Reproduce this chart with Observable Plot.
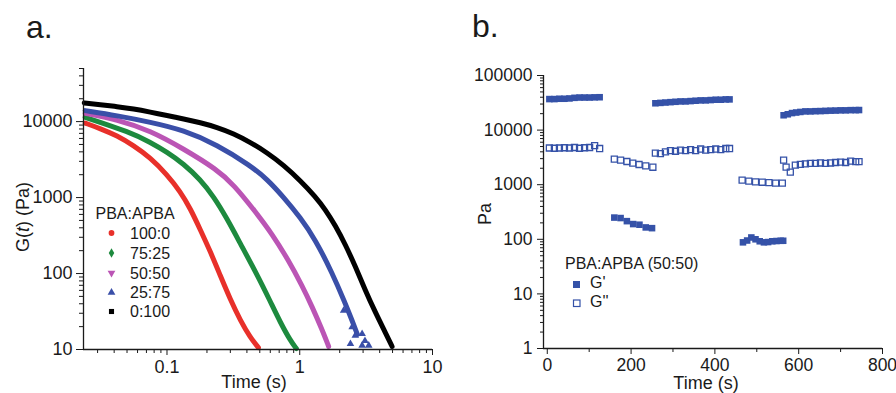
<!DOCTYPE html>
<html><head><meta charset="utf-8">
<script src="https://cdn.jsdelivr.net/npm/d3@7"></script>
<script src="https://cdn.jsdelivr.net/npm/@observablehq/plot@0.6"></script>
<style>
body{margin:0;background:#fff;}
#wrap{position:relative;width:896px;height:393px;overflow:hidden;font-family:"Liberation Sans",Arial,sans-serif;background:#fff;}
#wrap > svg{position:absolute;top:0;}
</style></head><body><div id="wrap"></div>
<script>
// ---------- Panel a data: stress relaxation G(t) ----------
const seriesNamesA = ["100:0", "75:25", "50:50", "25:75", "0:100"];
const colorsA = ["#e8302a", "#1d8a3e", "#bb55b5", "#3a4fa8", "#000000"];

const t_100_0 = [0.0242, 0.0314, 0.0420, 0.0560, 0.0748, 0.100, 0.126, 0.150, 0.178, 0.212, 0.252, 0.300, 0.357, 0.424, 0.488];
const g_100_0 = [9555, 8090, 6543, 4834, 3360, 2007, 1199, 716, 379, 195, 94.1, 45.5, 24.1, 14.4, 10.6];

const t_75_25 = [0.0242, 0.0529, 0.0748, 0.100, 0.1334, 0.1782, 0.2245, 0.2832, 0.3568, 0.4768, 0.6004, 0.7143, 0.8496, 0.9428];
const g_75_25 = [11394, 7234, 5340, 3969, 2776, 1725, 1031, 529, 248, 97.0, 42.8, 22.7, 13.1, 10.3];

const t_50_50 = [0.0242, 0.0420, 0.0748, 0.1334, 0.2381, 0.3176, 0.4628, 0.6183, 0.8249, 1.0406, 1.2378, 1.4723, 1.6511];
const g_50_50 = [12861, 10624, 7614, 4374, 2335, 1483, 654, 333, 148, 69.5, 36.8, 18.3, 10.95];

const t_25_75 = [0.0242, 0.0420, 0.0748, 0.1334, 0.2381, 0.4244, 0.5671, 0.7563, 1.0104, 1.3109, 1.7514, 2.2057, 2.4783, 2.7170];
const g_25_75 = [13954, 11993, 9849, 7731, 4981, 2637, 1751, 1009, 546, 280, 103, 40.3, 24.1, 15.8];
const t_25_75_tail = [2.14, 2.48, 2.62, 2.95, 2.41, 2.95, 3.31, 3.10];
const g_25_75_tail = [32.6, 19.7, 15.3, 16.1, 11.9, 11.3, 11.3, 13.0];

const t_0_100 = [0.0238, 0.0314, 0.0420, 0.0560, 0.0748, 0.100, 0.1334, 0.1782, 0.2381, 0.3176, 0.4244, 0.5671, 0.7563, 1.0104, 1.3109, 1.5592, 1.8548, 2.2057, 2.6242, 3.1221, 3.7130, 4.4171, 4.9607];
const g_0_100 = [17628, 16738, 15757, 14695, 13335, 11993, 10852, 9701, 8414, 6952, 5340, 3909, 2677, 1674, 1031, 695, 428, 241, 124, 59.7, 30.7, 16.7, 10.95];

const majorYA = [10, 100, 1000, 10000];
const majorXA = [0.1, 1, 10];

// ---------- Panel b data: step strain G' / G'' ----------
const gpTime = [5, 17, 29, 41, 53, 65, 77, 89, 101, 113, 125,
  160, 175, 190, 205, 220, 235, 250,
  258, 270, 282, 294, 306, 318, 330, 342, 354, 366, 378, 390, 402, 414, 426, 435,
  467, 477, 487, 497, 507, 517, 527, 537, 547, 557, 563,
  564, 574, 584, 594, 604, 616, 628, 640, 652, 664, 676, 688, 700, 712, 724, 736, 744];
const gpValue = [37000, 37000, 37500, 37500, 38000, 39000, 39500, 39500, 39500, 39800, 40000,
  250, 245, 215, 190, 185, 165, 160,
  31000, 31500, 32000, 32500, 33000, 33500, 33500, 34000, 34500, 35000, 35000, 35500, 36000, 36000, 36500, 36500,
  88, 95, 108, 100, 92, 88, 89, 92, 93, 94, 94,
  18700, 19500, 20500, 21000, 21500, 22000, 22000, 22200, 22300, 22500, 22700, 22800, 23000, 23000, 23200, 23200, 23300];

const gppTime = [5, 17, 29, 41, 53, 65, 77, 89, 101, 113, 125,
  160, 175, 190, 204, 219, 235, 252,
  258, 270, 282, 294, 306, 318, 330, 342, 354, 366, 378, 390, 402, 414, 426, 435,
  465, 481, 497, 513, 529, 545, 561,
  564, 570, 580, 592, 604, 616, 628, 640, 652, 664, 676, 688, 700, 712, 724, 736, 744];
const gppValue = [4700, 4650, 4700, 4750, 4700, 4800, 4650, 4750, 4800, 5200, 4600,
  2930, 2810, 2660, 2480, 2345, 2210, 2090,
  3800, 3700, 4000, 4200, 4100, 4300, 4200, 4400, 4200, 4500, 4300, 4400, 4500, 4400, 4600, 4600,
  1209, 1160, 1130, 1110, 1090, 1070, 1070,
  2810, 2100, 1700, 2280, 2350, 2400, 2450, 2450, 2500, 2450, 2500, 2550, 2600, 2550, 2700, 2650, 2650];

const majorYB = [1, 10, 100, 1000, 10000, 100000];
const majorXB = [0, 200, 400, 600, 800];
const minorXB = [100, 300, 500, 700];

// ---------- build ----------
const FONT = "Liberation Sans, Arial, sans-serif";
const INK = "#1a1a1a";
const blueB = "#3552a8";

function logMinor(decades, max) {
  const out = [];
  for (const d of decades) for (let k = 2; k <= 9; k++) if (d * k <= max) out.push(d * k);
  return out;
}

const rowsA = [];
const tA = [t_100_0, t_75_25, t_50_50, t_25_75, t_0_100];
const gA = [g_100_0, g_75_25, g_50_50, g_25_75, g_0_100];
seriesNamesA.forEach((name, s) => tA[s].forEach((t, i) => rowsA.push({series: name, t, g: gA[s][i]})));
const tailRows = t_25_75_tail.map((t, i) => ({t, g: g_25_75_tail[i]}));

const xMinA = 0.0235;
const plotA = Plot.plot({
  width: 450, height: 393,
  marginLeft: 83, marginRight: 18, marginTop: 68, marginBottom: 44,
  style: {fontFamily: FONT, color: INK, background: "transparent", overflow: "visible"},
  x: {type: "log", domain: [xMinA, 10], label: null},
  y: {type: "log", domain: [10, 50000], label: null},
  color: {domain: seriesNamesA, range: colorsA},
  marks: [
    Plot.axisY({ticks: logMinor([10, 100, 1000, 10000], 50000), tickSize: 4, tickFormat: () => "", label: null}),
    Plot.axisY({ticks: majorYA, tickSize: 7, tickPadding: 4, fontSize: 18, tickFormat: d => String(d), label: null}),
    Plot.axisX({ticks: logMinor([0.01, 0.1, 1], 9).filter(d => d >= xMinA), tickSize: 4, tickFormat: () => "", label: null}),
    Plot.axisX({ticks: majorXA, tickSize: 6, tickPadding: 5, fontSize: 18, tickFormat: d => String(d), label: null}),
    Plot.line(rowsA, {x: "t", y: "g", z: "series", stroke: "series", strokeWidth: 5, curve: "basis"}),
    Plot.dot(tailRows, {x: "t", y: "g", symbol: "triangle", fill: colorsA[3], r: 2.8}),
    Plot.ruleX([xMinA], {stroke: INK, strokeWidth: 1.3}),
    Plot.ruleY([10], {stroke: INK, strokeWidth: 1.3})
  ]
});
plotA.style.left = "0px";

const gpRows = gpTime.map((t, i) => ({t, v: gpValue[i]}));
const gppRows = gppTime.map((t, i) => ({t, v: gppValue[i]}));
const xMinB = -9;
const plotB = Plot.plot({
  width: 446, height: 393,
  marginLeft: 93, marginRight: 14, marginTop: 75, marginBottom: 45,
  style: {fontFamily: FONT, color: INK, background: "transparent", overflow: "visible"},
  x: {domain: [xMinB, 800], label: null},
  y: {type: "log", domain: [1, 100000], label: null},
  marks: [
    Plot.axisY({ticks: logMinor([1, 10, 100, 1000, 10000], 100000), tickSize: 3, tickFormat: () => "", label: null}),
    Plot.axisY({ticks: majorYB, tickSize: 6, tickPadding: 5, fontSize: 17.5, tickFormat: d => String(d), label: null}),
    Plot.axisX({ticks: minorXB, tickSize: 4, tickFormat: () => "", label: null}),
    Plot.axisX({ticks: majorXB, tickSize: 6, tickPadding: 4, fontSize: 17.5, tickFormat: d => String(d), label: null}),
    Plot.dot(gppRows, {x: "t", y: "v", symbol: "square", stroke: blueB, fill: "none", strokeWidth: 1.3, r: 3.4}),
    Plot.dot(gpRows, {x: "t", y: "v", symbol: "square", fill: blueB, r: 3.7}),
    Plot.ruleX([xMinB], {stroke: INK, strokeWidth: 1.3}),
    Plot.ruleY([1], {stroke: INK, strokeWidth: 1.3})
  ]
});
plotB.style.left = "450px";

const wrap = document.getElementById("wrap");
wrap.appendChild(plotA);
wrap.appendChild(plotB);

// ---------- overlay: panel letters, axis titles, legends ----------
const ov = d3.select(wrap).append("svg")
  .attr("width", 896).attr("height", 393)
  .style("position", "absolute").style("left", "0px").style("top", "0px")
  .style("font-family", FONT).style("fill", INK);

ov.append("text").attr("x", 26).attr("y", 38).attr("font-size", 32).text("a.");
ov.append("text").attr("x", 472).attr("y", 37).attr("font-size", 32).text("b.");

// x titles
ov.append("text").attr("x", 254).attr("y", 388).attr("font-size", 18).attr("text-anchor", "middle").text("Time (s)");
ov.append("text").attr("x", 706).attr("y", 389).attr("font-size", 18).attr("text-anchor", "middle").text("Time (s)");

// y titles
const yl = ov.append("text").attr("transform", "translate(29,217) rotate(-90)").attr("font-size", 18).attr("text-anchor", "middle");
yl.append("tspan").text("G(");
yl.append("tspan").attr("font-style", "italic").text("t");
yl.append("tspan").text(") (Pa)");
ov.append("text").attr("transform", "translate(491,214) rotate(-90)").attr("font-size", 18).attr("text-anchor", "middle").text("Pa");

// legend a
ov.append("text").attr("x", 95.5).attr("y", 219).attr("font-size", 16).text("PBA:APBA");
const legY = [233, 253, 273, 292.5, 311.5];
const sym = [d3.symbolCircle, d3.symbolDiamond, d3.symbolTriangle, d3.symbolTriangle, d3.symbolSquare];
const rot = [0, 0, 180, 0, 0];
seriesNamesA.forEach((name, i) => {
  ov.append("path").attr("d", d3.symbol(sym[i], 26)())
    .attr("transform", `translate(111.5,${legY[i]}) rotate(${rot[i]})`).attr("fill", colorsA[i]);
  ov.append("text").attr("x", 130).attr("y", legY[i] + 5.8).attr("font-size", 16).text(name);
});

// legend b
ov.append("text").attr("x", 565).attr("y", 269).attr("font-size", 16).text("PBA:APBA (50:50)");
ov.append("rect").attr("x", 573).attr("y", 281).attr("width", 7).attr("height", 7).attr("fill", blueB);
ov.append("rect").attr("x", 573.5).attr("y", 300).attr("width", 6.5).attr("height", 6.5).attr("fill", "none").attr("stroke", blueB).attr("stroke-width", 1.2);
ov.append("text").attr("x", 590).attr("y", 288).attr("font-size", 16).text("G'");
ov.append("text").attr("x", 590).attr("y", 307).attr("font-size", 16).text("G''");
</script></body></html>
